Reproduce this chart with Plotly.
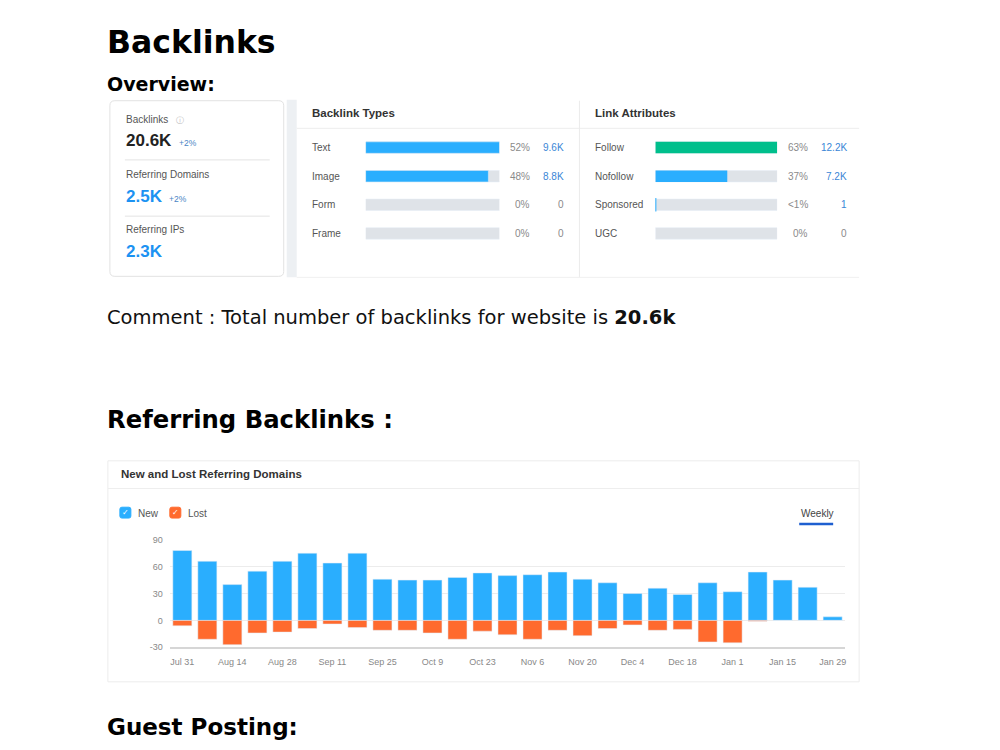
import plotly.graph_objects as go

# ---------------- data ----------------
card_labels = ["Backlinks", "Referring Domains", "Referring IPs"]
card_values = ["20.6K", "2.5K", "2.3K"]
card_changes = ["+2%", "+2%", ""]

bt_types = ["Text", "Image", "Form", "Frame"]
bt_pct = ["52%", "48%", "0%", "0%"]
bt_counts = [9600, 8800, 0, 0]
bt_count_labels = ["9.6K", "8.8K", "0", "0"]

la_types = ["Follow", "Nofollow", "Sponsored", "UGC"]
la_pct = ["63%", "37%", "<1%", "0%"]
la_counts = [12200, 7200, 1, 0]
la_count_labels = ["12.2K", "7.2K", "1", "0"]

weeks = ["Jul 31", "Aug 7", "Aug 14", "Aug 21", "Aug 28", "Sep 4", "Sep 11",
         "Sep 18", "Sep 25", "Oct 2", "Oct 9", "Oct 16", "Oct 23", "Oct 30",
         "Nov 6", "Nov 13", "Nov 20", "Nov 27", "Dec 4", "Dec 11", "Dec 18",
         "Dec 25", "Jan 1", "Jan 8", "Jan 15", "Jan 22", "Jan 29"]
new_domains = [78, 66, 40, 55, 66, 75, 64, 75, 46, 45, 45, 48, 53, 50, 51, 54,
               46, 42, 30, 36, 29, 42, 32, 54, 45, 37, 4]
lost_domains = [-6, -21, -27, -14, -13, -9, -4, -8, -11, -11, -14, -21, -12, -16,
                -21, -11, -17, -9, -5, -11, -10, -24, -25, -1, 0, 0, 0]
y_ticks = [-30, 0, 30, 60, 90]

# ---------------- helpers ----------------
W, H = 1000, 750
def X(px):
    return px / W
def Y(py):
    return 1 - py / H

UI = "Liberation Sans, Arial, sans-serif"
HD = "DejaVu Sans, Verdana, sans-serif"
BLUE = "#2aaefe"
ORANGE = "#ff6a2e"
GREEN = "#00bf8c"
TRACK = "#dfe3e8"
NUMBLUE = "#1c92f2"
LINKBLUE = "#3a86d6"

annotations = []
shapes = []

def text(px, py, s, size, color="#333", bold=False, font=UI, anchor="left", **kw):
    if bold:
        s = "<b>" + s + "</b>"
    annotations.append(dict(x=X(px), y=Y(py), xref="paper", yref="paper", text=s,
                            showarrow=False, xanchor=anchor, yanchor="middle",
                            font=dict(size=size, color=color, family=font), **kw))

def hline(x0, x1, py, color="#e6e6e6", width=1):
    shapes.append(dict(type="line", xref="paper", yref="paper", x0=X(x0), x1=X(x1),
                       y0=Y(py), y1=Y(py), line=dict(color=color, width=width)))

def vline(px, y0, y1, color="#e6e6e6", width=1):
    shapes.append(dict(type="line", xref="paper", yref="paper", x0=X(px), x1=X(px),
                       y0=Y(y0), y1=Y(y1), line=dict(color=color, width=width)))

def rrect(x0, y0, x1, y1, r, line="#e2e2e2", fill="rgba(0,0,0,0)", lw=1):
    rx, ry = r / W, r / H
    a, b, c, d = X(x0), Y(y0), X(x1), Y(y1)
    path = (f"M{a+rx},{b} L{c-rx},{b} Q{c},{b} {c},{b-ry} L{c},{d+ry} Q{c},{d} {c-rx},{d} "
            f"L{a+rx},{d} Q{a},{d} {a},{d+ry} L{a},{b-ry} Q{a},{b} {a+rx},{b} Z")
    shapes.append(dict(type="path", xref="paper", yref="paper", path=path,
                       line=dict(color=line, width=lw), fillcolor=fill, layer="below"))

# ---------------- headings / text ----------------
text(105, 38, "Backlinks", 31.5, "#000", True, HD)
text(105, 80, "Overview:", 19, "#000", True, HD)
comment = "Comment : Total number of backlinks for website is <b>20.6k</b>"
text(105, 317, comment, 19.5, "#111", False, HD)
text(105, 420, "Referring Backlinks :", 24.3, "#000", True, HD)
text(105, 732, "Guest Posting:", 23, "#000", True, HD)

# ---------------- overview card ----------------
rrect(110, 97, 284, 275, 5)
shapes.append(dict(type="rect", xref="paper", yref="paper", x0=X(287), x1=X(297),
                   y0=Y(96), y1=Y(276), fillcolor="#edf0f3", line=dict(width=0),
                   layer="below"))
label_y = [116, 172, 228]
value_y = [137, 194, 250]
value_colors = ["#222", NUMBLUE, NUMBLUE]
change_x = [177, 167, 0]
for i in range(3):
    text(124, label_y[i], card_labels[i], 10, "#555")
    text(124, value_y[i], card_values[i], 17, value_colors[i], True)
    if card_changes[i]:
        text(change_x[i], value_y[i] + 3, card_changes[i], 8.5, "#4a86c5")
text(174, 117, "ⓘ", 8, "#bbb", False, HD)
hline(125, 270, 157, "#e3e3e3")
hline(125, 270, 214, "#e3e3e3")

# right overview panels
hline(297, 860, 125, "#ededed")
vline(580, 97, 276, "#ebebeb")
hline(297, 860, 276, "#f0f0f0")
text(310, 109, "Backlink Types", 11.5, "#333", True)
text(594, 109, "Link Attributes", 11.5, "#333", True)

for t, p, lab, c in zip(bt_types, bt_pct, bt_count_labels, bt_counts):
    annotations.append(dict(x=X(310), y=t, xref="paper", yref="y2", text=t, showarrow=False,
                            xanchor="left", font=dict(size=10, color="#555", family=UI)))
    annotations.append(dict(x=X(533), y=t, xref="paper", yref="y2", text=p, showarrow=False,
                            xanchor="right", font=dict(size=10, color="#8a8a8a", family=UI)))
    annotations.append(dict(x=X(567), y=t, xref="paper", yref="y2", text=lab, showarrow=False,
                            xanchor="right",
                            font=dict(size=10, color=LINKBLUE if c > 0 else "#8a8a8a", family=UI)))
for t, p, lab, c in zip(la_types, la_pct, la_count_labels, la_counts):
    annotations.append(dict(x=X(594), y=t, xref="paper", yref="y3", text=t, showarrow=False,
                            xanchor="left", font=dict(size=10, color="#555", family=UI)))
    annotations.append(dict(x=X(811), y=t, xref="paper", yref="y3", text=p, showarrow=False,
                            xanchor="right", font=dict(size=10, color="#8a8a8a", family=UI)))
    annotations.append(dict(x=X(850), y=t, xref="paper", yref="y3", text=lab, showarrow=False,
                            xanchor="right",
                            font=dict(size=10, color=LINKBLUE if c > 0 else "#8a8a8a", family=UI)))

# ---------------- chart panel ----------------
shapes.append(dict(type="rect", xref="paper", yref="paper", x0=X(108), x1=X(860),
                   y0=Y(462), y1=Y(686), line=dict(color="#ececec", width=1),
                   fillcolor="rgba(0,0,0,0)", layer="below"))
hline(108, 860, 490, "#eeeeee")
text(119, 475, "New and Lost Referring Domains", 11.5, "#333", True)
# legend (checkbox style)
for bx, col, name in [(120, BLUE, "New"), (170, ORANGE, "Lost")]:
    rrect(bx, 509, bx + 11, 520, 2, line=col, fill=col)
    annotations.append(dict(x=X(bx + 5.5), y=Y(514.5), xref="paper", yref="paper", text="✓",
                            showarrow=False, xanchor="center", yanchor="middle",
                            font=dict(size=8, color="white", family=HD)))
    text(bx + 16, 515, name, 10, "#555")
text(800, 515, "Weekly", 10, "#444")
hline(800, 834, 526, "#1e5fd0", 2.5)

# ---------------- traces ----------------
fig = go.Figure()
fig.add_trace(go.Bar(x=weeks, y=new_domains, name="New", marker_color=BLUE,
                     width=0.76, xaxis="x", yaxis="y", hoverinfo="x+y"))
fig.add_trace(go.Bar(x=weeks, y=lost_domains, name="Lost", marker_color=ORANGE,
                     width=0.76, xaxis="x", yaxis="y", hoverinfo="x+y"))

bt_max = max(bt_counts)
fig.add_trace(go.Bar(x=[bt_max] * len(bt_types), y=bt_types, orientation="h",
                     marker_color=TRACK, width=0.4, xaxis="x2", yaxis="y2",
                     hoverinfo="skip", showlegend=False))
fig.add_trace(go.Bar(x=[c if c > 0 else None for c in bt_counts], y=bt_types, orientation="h",
                     marker_color=BLUE, width=0.4, xaxis="x2", yaxis="y2",
                     showlegend=False))

la_max = max(la_counts)
la_colors = [GREEN] + [BLUE] * (len(la_types) - 1)
fig.add_trace(go.Bar(x=[la_max] * len(la_types), y=la_types, orientation="h",
                     marker_color=TRACK, width=0.4, xaxis="x3", yaxis="y3",
                     hoverinfo="skip", showlegend=False))
fig.add_trace(go.Bar(x=[c if c > 0 else None for c in la_counts], y=la_types, orientation="h",
                     marker=dict(color=la_colors,
                                 line=dict(color=la_colors,
                                           width=[2 if 0 < c < la_max * 0.01 else 0
                                                  for c in la_counts])),
                     width=0.4, xaxis="x3", yaxis="y3", showlegend=False))

row_domain = [Y(246), Y(130)]
fig.update_layout(
    width=W, height=H, margin=dict(l=0, r=0, t=0, b=0),
    paper_bgcolor="white", plot_bgcolor="rgba(0,0,0,0)",
    barmode="overlay", showlegend=False,
    xaxis=dict(domain=[X(170), X(846)], type="category", anchor="y",
               tickvals=weeks[::2], ticks="", showgrid=False,
               showline=True, linecolor="#d6d6d6", linewidth=2,
               tickfont=dict(size=9, color="#888", family=UI),
               ticklabelstandoff=5),
    yaxis=dict(domain=[Y(651), Y(542)], range=[-30, 90], anchor="x",
               tickvals=y_ticks, ticktext=[str(v) for v in y_ticks],
               gridcolor="#ececec", zeroline=False,
               ticks="", tickfont=dict(size=9, color="#888", family=UI),
               ticklabelstandoff=6),
    xaxis2=dict(domain=[X(366), X(500)], range=[0, bt_max], visible=False, anchor="y2"),
    yaxis2=dict(domain=row_domain, type="category", range=[3.5, -0.5], visible=False,
                anchor="x2"),
    xaxis3=dict(domain=[X(656), X(778)], range=[0, la_max], visible=False, anchor="y3"),
    yaxis3=dict(domain=row_domain, type="category", range=[3.5, -0.5], visible=False,
                anchor="x3"),
    annotations=annotations, shapes=shapes,
)
fig.write_html("out.html")
